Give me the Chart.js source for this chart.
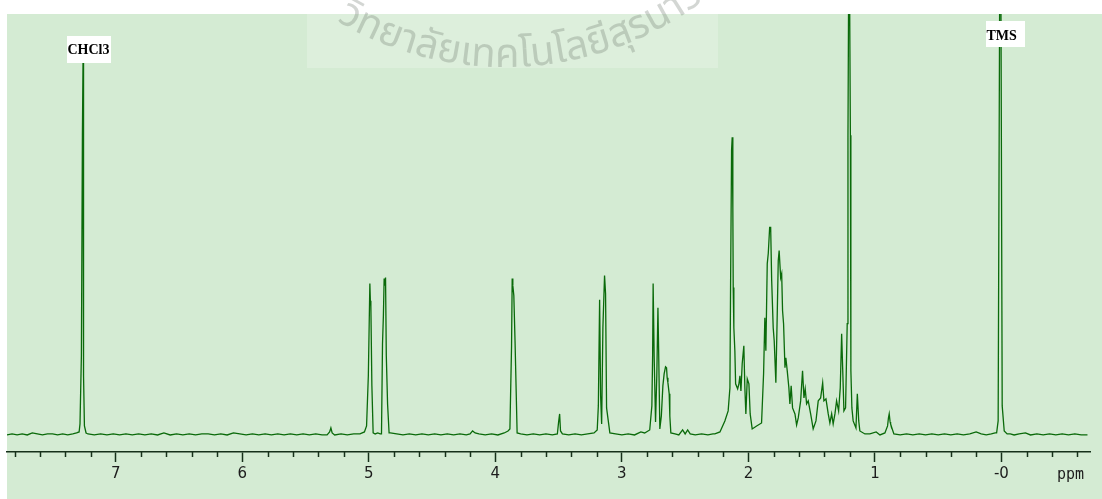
<!DOCTYPE html>
<html>
<head>
<meta charset="utf-8">
<script src="https://cdn.jsdelivr.net/npm/chart.js@4.4.1/dist/chart.umd.min.js"></script>
<style>
  html, body { margin: 0; padding: 0; background: #fff; }
  #wrap { width: 1102px; height: 499px; position: relative; }
</style>
</head>
<body>
<div id="wrap"><canvas id="nmr"></canvas></div>
<script>
// 1H NMR spectrum as [ppm, intensity] pairs
const baseLeft = [[7.86,1],[7.82,2],[7.78,1],[7.74,2],[7.70,1],[7.66,3],[7.62,2],[7.58,1],[7.54,2],[7.50,2],[7.46,1],[7.42,2],[7.38,1],[7.34,2],[7.31,3]];
const chcl3Peak = [[7.290,4],[7.283,12],[7.272,80],[7.264,300],[7.259,375],[7.255,60],[7.248,10],[7.235,3]];
const baseMid1 = [[7.22,2],[7.17,1],[7.12,2],[7.07,1],[7.02,2],[6.97,1],[6.92,2],[6.87,1],[6.82,2],[6.77,1],[6.72,2],[6.67,1],[6.62,3],[6.57,1],[6.52,2],[6.47,1],[6.42,2],[6.37,1],[6.32,2],[6.27,2],[6.22,1],[6.17,2],[6.12,1],[6.07,3],[6.02,2],[5.97,1],[5.92,2],[5.87,1],[5.82,2],[5.77,1],[5.72,2],[5.67,1],[5.62,2],[5.57,1],[5.52,2],[5.47,1],[5.42,2],[5.37,1],[5.33,1],[5.31,4],[5.30,8],[5.29,3],[5.27,1],[5.22,2],[5.17,1],[5.12,2],[5.07,2],[5.035,4]];
const olefinPeaks = [[5.018,10],[5.004,60],[4.992,152],[4.988,135],[4.984,130],[4.976,50],[4.966,3],[4.95,2],[4.93,3],[4.91,2],[4.900,2],[4.892,92],[4.885,120],[4.879,157],[4.874,150],[4.868,158],[4.862,80],[4.852,32],[4.840,3]];
const baseMid2 = [[4.83,3],[4.78,2],[4.73,1],[4.68,2],[4.63,1],[4.58,2],[4.53,1],[4.48,2],[4.43,1],[4.38,2],[4.33,1],[4.28,2],[4.23,1],[4.20,2],[4.18,5],[4.16,3],[4.13,2],[4.08,1],[4.03,2],[3.98,1],[3.93,3],[3.90,5]];
const methoxyPeak = [[3.885,7],[3.872,90],[3.867,157],[3.862,150],[3.854,140],[3.844,92],[3.828,3]];
const baseMid3 = [[3.80,2],[3.75,1],[3.70,2],[3.65,1],[3.60,2],[3.55,1],[3.51,2],[3.500,14],[3.492,22],[3.485,5],[3.47,2],[3.42,1],[3.37,2],[3.32,1],[3.27,2],[3.22,3]];
const doublet315 = [[3.195,6],[3.186,30],[3.176,136],[3.168,40],[3.160,12],[3.150,108],[3.137,160],[3.129,142],[3.121,28],[3.095,3]];
const baseMid4 = [[3.05,2],[3.00,1],[2.95,2],[2.90,1],[2.85,4],[2.82,3],[2.78,6]];
const multiplet27 = [[2.763,30],[2.757,80],[2.753,152],[2.745,80],[2.734,14],[2.724,60],[2.715,128],[2.710,90],[2.700,7],[2.688,20],[2.676,50],[2.666,62],[2.655,69],[2.647,68],[2.642,58],[2.636,53],[2.626,42],[2.621,20],[2.613,3]];
const baseMid5 = [[2.58,2],[2.55,1],[2.52,6],[2.50,2],[2.48,6],[2.46,2],[2.42,1],[2.37,2],[2.32,1],[2.28,2],[2.265,2],[2.225,4]];
const aliphatic = [[2.186,15],[2.160,25],[2.146,48],[2.141,148],[2.133,285],[2.128,298],[2.123,228],[2.120,148],[2.115,108],[2.107,85],[2.101,52],[2.085,47],[2.075,52],[2.067,60],[2.059,45],[2.049,72],[2.036,90],[2.028,48],[2.020,22],[2.009,57],[1.996,52],[1.986,22],[1.970,7],[1.935,10],[1.896,13],[1.880,62],[1.870,118],[1.862,85],[1.851,172],[1.843,182],[1.832,208],[1.824,208],[1.816,155],[1.804,108],[1.796,95],[1.783,53],[1.772,122],[1.764,175],[1.757,185],[1.745,158],[1.737,162],[1.730,125],[1.722,112],[1.711,68],[1.704,78],[1.693,65],[1.680,48],[1.672,32],[1.662,50],[1.651,28],[1.632,22],[1.619,11],[1.606,18],[1.587,35],[1.572,65],[1.561,38],[1.551,47],[1.540,32],[1.527,35],[1.508,22],[1.488,7],[1.466,15],[1.448,35],[1.429,38],[1.413,53],[1.403,35],[1.387,37],[1.369,22],[1.356,13],[1.342,22],[1.330,12],[1.316,22],[1.303,35],[1.287,25],[1.274,48],[1.263,102],[1.255,68],[1.245,25],[1.232,28],[1.219,112],[1.213,300],[1.208,440],[1.200,440],[1.194,300],[1.190,65],[1.182,28],[1.172,15],[1.150,8],[1.139,42],[1.128,15],[1.119,5],[1.079,2]];
const baseRight1 = [[1.04,2],[0.99,4],[0.96,1],[0.921,3]];
const methylPeak = [[0.900,10],[0.893,18],[0.887,22],[0.880,14],[0.876,12],[0.866,8],[0.850,2]];
const baseRight2 = [[0.80,1],[0.75,2],[0.70,1],[0.65,2],[0.60,1],[0.55,2],[0.50,1],[0.45,2],[0.40,1],[0.35,2],[0.30,1],[0.25,2],[0.20,4],[0.16,2],[0.12,1],[0.08,2],[0.05,3]];
const tmsPeak = [[0.038,3],[0.026,15],[0.014,440],[0.004,440],[-0.006,30],[-0.022,5],[-0.045,2]];
const baseRight3 = [[-0.07,2],[-0.10,1],[-0.14,2],[-0.19,3],[-0.23,1],[-0.28,2],[-0.33,1],[-0.38,2],[-0.43,1],[-0.48,2],[-0.53,1],[-0.58,2],[-0.63,1],[-0.68,1]];

const axisRange = [-0.70, 7.86];
const tickStep = 0.2;
const majorTickLabels = { 7: '7', 6: '6', 5: '5', 4: '4', 3: '3', 2: '2', 1: '1', 0: '-0' };
const peakLabelTexts = ['CHCl3', 'TMS'];
const peakLabelShifts = [7.259, 0.014];

const watermarkText = ['วิ','ท','ย','า','ลั','ย','เ','ท','ค','โ','น','โ','ล','ยี','สุ','ร','น','า','รี'];

const spectrum = [].concat(baseLeft, chcl3Peak, baseMid1, olefinPeaks, baseMid2, methoxyPeak,
  baseMid3, doublet315, baseMid4, multiplet27, baseMid5, aliphatic, baseRight1, methylPeak,
  baseRight2, tmsPeak, baseRight3)
  .sort((a, b) => b[0] - a[0])
  .map(p => ({ x: p[0], y: p[1] }));

const axisColor = '#16301a';
const isMajor = v => Math.abs(v - Math.round(v)) < 1e-6;

// background, faint watermark
const backdrop = {
  id: 'backdrop',
  beforeDraw(chart) {
    const ctx = chart.ctx;
    ctx.save();
    ctx.fillStyle = '#ffffff';
    ctx.fillRect(0, 0, chart.width, chart.height);
    ctx.fillStyle = '#d4ebd3';
    ctx.fillRect(7, 14, chart.width - 7, chart.height - 14);
    ctx.fillStyle = 'rgba(255,255,255,0.22)';
    ctx.fillRect(307, 14, 411, 54);

    // seal text running along the lower part of a circle
    ctx.font = '40px "Noto Sans Thai", "Noto Sans", "DejaVu Sans", sans-serif';
    ctx.fillStyle = 'rgba(110,118,110,0.30)';
    const cx = 505, R = 330, cy = 67 - R;
    const widths = watermarkText.map(s => ctx.measureText(s).width);
    let total = 0;
    widths.forEach(w => total += w);
    let ang = Math.PI / 2 + (total / 2 - 18) / R;
    watermarkText.forEach((s, i) => {
      const a = ang - widths[i] / 2 / R;
      ctx.save();
      ctx.translate(cx + R * Math.cos(a), cy + R * Math.sin(a));
      ctx.rotate(a - Math.PI / 2);
      ctx.textAlign = 'center';
      ctx.fillText(s, 0, 0);
      ctx.restore();
      ang -= widths[i] / R;
    });
    ctx.restore();
  }
};

// minor ticks, peak labels, unit
const annotations = {
  id: 'annotations',
  afterDraw(chart) {
    const ctx = chart.ctx;
    const xs = chart.scales.x;
    const bottom = chart.chartArea.bottom;
    ctx.save();
    ctx.strokeStyle = axisColor;
    ctx.lineWidth = 1.5;
    xs.ticks.forEach(t => {
      if (isMajor(t.value)) return;
      const px = Math.round(xs.getPixelForValue(t.value)) + 0.5;
      ctx.beginPath();
      ctx.moveTo(px, bottom);
      ctx.lineTo(px, bottom + 5);
      ctx.stroke();
    });

    const boxes = [{ dx: -16, top: 36, w: 44, h: 27, base: 54 }, { dx: -14, top: 21, w: 39, h: 26, base: 40 }];
    ctx.font = 'bold 14px "Liberation Serif", "Times New Roman", serif';
    ctx.textAlign = 'left';
    ctx.textBaseline = 'alphabetic';
    peakLabelTexts.forEach((txt, i) => {
      const px = Math.round(xs.getPixelForValue(peakLabelShifts[i]));
      const b = boxes[i];
      ctx.fillStyle = '#ffffff';
      ctx.fillRect(px + b.dx, b.top, b.w, b.h);
      ctx.fillStyle = '#000000';
      ctx.fillText(txt, px + b.dx + 0.5, b.base);
    });

    ctx.font = '15px "DejaVu Sans Mono", monospace';
    ctx.fillStyle = '#1c1c1c';
    ctx.textAlign = 'right';
    ctx.textBaseline = 'alphabetic';
    ctx.fillText('ppm', chart.chartArea.right - 6, 479);
    ctx.restore();
  }
};

new Chart(document.getElementById('nmr'), {
  type: 'line',
  data: {
    datasets: [{
      data: spectrum,
      borderColor: '#0a6a0a',
      borderWidth: 1.3,
      pointRadius: 0,
      tension: 0,
      fill: false
    }]
  },
  options: {
    responsive: true,
    maintainAspectRatio: false,
    devicePixelRatio: 1,
    animation: false,
    layout: { padding: { left: 7, right: 12, top: 14, bottom: 0 } },
    plugins: { legend: { display: false }, tooltip: { enabled: false } },
    scales: {
      x: {
        type: 'linear',
        reverse: true,
        min: axisRange[0],
        max: axisRange[1],
        afterFit(s) { s.height = 47; },
        border: { display: true, color: axisColor, width: 1.5 },
        grid: {
          display: true,
          drawOnChartArea: false,
          drawTicks: true,
          tickLength: 10,
          tickWidth: 1.5,
          tickColor: c => (c.tick && isMajor(c.tick.value)) ? axisColor : 'rgba(0,0,0,0)'
        },
        ticks: {
          stepSize: tickStep,
          includeBounds: false,
          autoSkip: false,
          maxRotation: 0,
          padding: 3,
          color: '#1c1c1c',
          font: { family: '"DejaVu Sans", sans-serif', size: 15 },
          callback: v => isMajor(v) ? (majorTickLabels[Math.round(v)] || '') : ''
        }
      },
      y: { display: false, min: -16, max: 421 }
    }
  },
  plugins: [backdrop, annotations]
});
</script>
</body>
</html>
